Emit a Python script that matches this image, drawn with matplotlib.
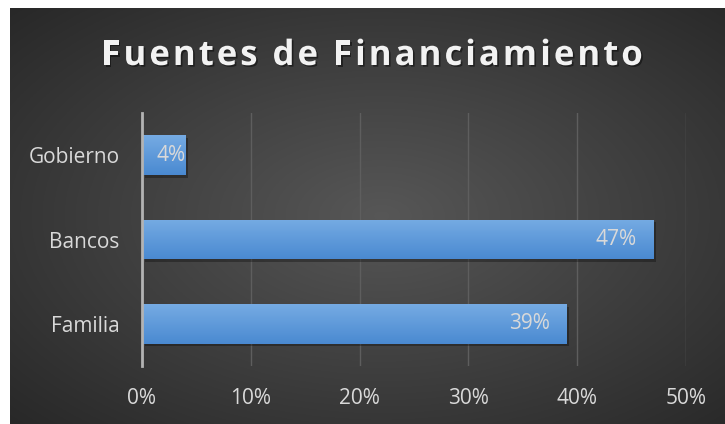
import numpy as np
import matplotlib
matplotlib.use("Agg")
import matplotlib.pyplot as plt
import matplotlib.patheffects as pe

categories = ["Familia", "Bancos", "Gobierno"]
values = [39, 47, 4]
xticks = [0, 10, 20, 30, 40, 50]
title = "Fuentes de Financiamiento"

plt.rcParams['font.family'] = ['Open Sans', 'DejaVu Sans']

W, H = 725, 424
fig = plt.figure(figsize=(W / 100, H / 100), dpi=100, facecolor='white')

# dark radial background
bg = fig.add_axes([10 / W, 0, (W - 10) / W, (H - 8) / H])
bg.set_axis_off()
yy, xx = np.mgrid[0:1:300j, 0:1:500j]
r = np.sqrt(((xx - 0.52) / 0.75) ** 2 + ((yy - 0.5) / 0.75) ** 2)
r = np.clip(r, 0, 1)
shade = 0.34 - 0.19 * r
bg.imshow(np.dstack([shade, shade, shade]), aspect='auto', extent=[0, 1, 0, 1])
bg.set_xlim(0, 1)
bg.set_ylim(0, 1)

ax = fig.add_axes([142 / W, 58 / H, 544 / W, 253 / H])
ax.patch.set_alpha(0)
ypos = np.arange(len(categories))
h = 0.47
bars = ax.barh(ypos, values, height=h, color='#4d8ed4', zorder=3,
               path_effects=[pe.SimplePatchShadow(offset=(2, -2), shadow_rgbFace='black', alpha=0.3),
                             pe.Normal()])

grad = np.linspace(0, 1, 50)[:, None]
top = np.array([0.46, 0.67, 0.89])
bot = np.array([0.29, 0.54, 0.82])
img = (top[None, None, :] * (1 - grad[:, :, None]) + bot[None, None, :] * grad[:, :, None])
for b, y, v in zip(bars, ypos, values):
    im = ax.imshow(img, aspect='auto', extent=[0, v, y - h / 2, y + h / 2],
                   origin='upper', zorder=4)
    im.set_clip_path(b)
    off = -12 if v > 10 else 0
    ax.annotate(f"{v}%", (v, y), xytext=(off, 0), textcoords='offset points',
                ha='right', va='center', color='#d9d9d9', fontsize=15, zorder=5)

ax.set_xlim(0, 50)
ax.set_ylim(-0.5, 2.5)
ax.set_xticks(xticks)
ax.set_xticklabels([f"{t}%" for t in xticks])
ax.set_yticks(ypos)
ax.set_yticklabels(categories)
ax.tick_params(axis='both', length=0, colors='#d9d9d9', labelsize=15)
ax.tick_params(axis='x', pad=16)
ax.tick_params(axis='y', pad=16)
ax.grid(axis='x', color='#5e5e5e', linewidth=1, zorder=0)
for s in ['top', 'right', 'bottom']:
    ax.spines[s].set_visible(False)
ax.spines['left'].set_color('#b3b3b3')
ax.spines['left'].set_linewidth(2)
ax.spines['left'].set_zorder(6)

# title with letter spacing
renderer = fig.canvas.get_renderer()
tkw = dict(color='#f2f2f2', fontsize=25, fontweight='bold', va='center', ha='left')
def tw(s):
    t = fig.text(0, 0, s, **tkw)
    w = t.get_window_extent(renderer).width if s else 0
    t.remove()
    return w
spacing = 3.0
total = tw(title) + spacing * (len(title) - 1)
x0 = 372 - total / 2
shadow = [pe.withSimplePatchShadow(offset=(1.2, -1.2), shadow_rgbFace='black', alpha=0.45)]
for i, ch in enumerate(title):
    if ch == ' ':
        continue
    x = x0 + tw(title[:i]) + spacing * i
    fig.text(x / W, 1 - 56 / H, ch, path_effects=shadow, **tkw)

fig.savefig("out.png", dpi=100, facecolor='white')
